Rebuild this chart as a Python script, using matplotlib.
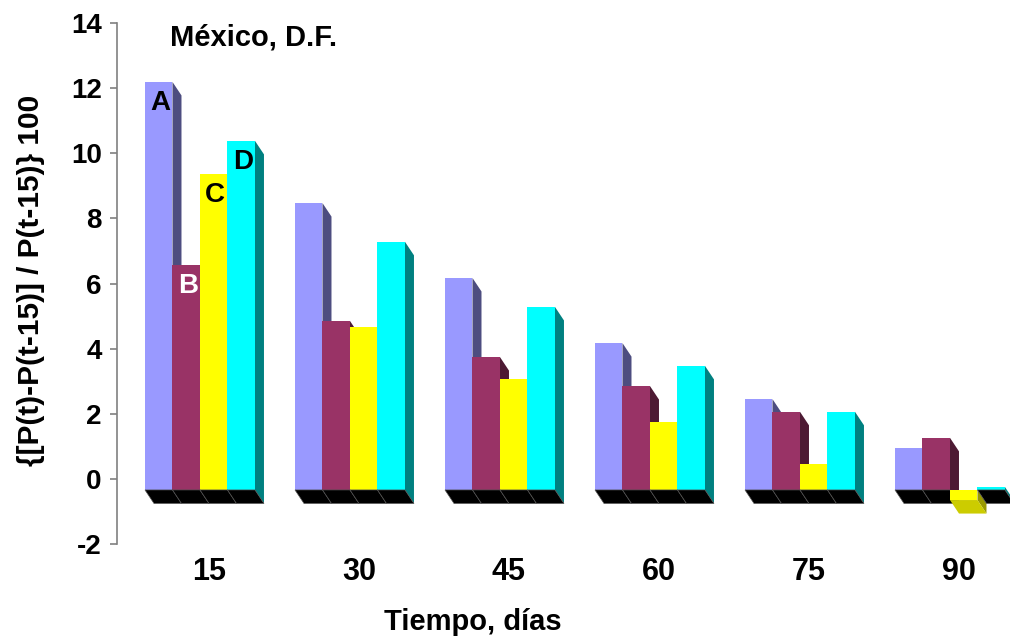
import numpy as np
import matplotlib
matplotlib.use("Agg")
import matplotlib.pyplot as plt
from matplotlib.patches import Polygon

plt.rcParams['font.family'] = ['Liberation Sans', 'DejaVu Sans']
plt.rcParams['font.weight'] = 'bold'
plt.rcParams['axes.unicode_minus'] = False

# Datos: variación porcentual quincenal por serie
dias = ['15', '30', '45', '60', '75', '90']
series = ['A', 'B', 'C', 'D']
serie_a = [12.53, 8.81, 6.51, 4.51, 2.79, 1.29]
serie_b = [6.91, 5.19, 4.08, 3.19, 2.40, 1.60]
serie_c = [9.71, 5.01, 3.41, 2.09, 0.80, -0.31]
serie_d = [10.72, 7.62, 5.62, 3.81, 2.40, 0.09]

frente = ['#9999FF', '#993366', '#FFFF00', '#00FFFF']
lado = ['#4D4D80', '#4D1A33', '#999900', '#008080']
fondo_neg = ['#4D4D80', '#4D1A33', '#CCCC00', '#00B0B0']
color_texto = ['black', 'white', 'black', 'black']

# geometría de la pseudo-perspectiva (unidades de datos)
ANCHO = 0.1833
INICIO = -0.3667
DX = 0.06
DY = 0.415
BASE = -0.34

fig = plt.figure(figsize=(10.10, 6.42), dpi=100)
ax = fig.add_axes([117 / 1010, 1 - 544 / 642, (1010 - 117) / 1010, (544 - 23) / 642])
ax.set_xlim(-0.5533, 5.4)
ax.set_ylim(-2, 14)

valores = [serie_a, serie_b, serie_c, serie_d]

for i in range(len(dias)):
    for j, vals in enumerate(valores):
        v = vals[i]
        x0 = i + INICIO + j * ANCHO
        x1 = x0 + ANCHO
        top = BASE + v
        # cara lateral
        if v >= 0:
            lat = [(x1, top), (x1 + DX, top - DY), (x1 + DX, BASE - DY), (x1, BASE)]
        else:
            lat = [(x1, BASE), (x1 + DX, BASE - DY), (x1 + DX, top - DY), (x1, top)]
        ax.add_patch(Polygon(lat, closed=True, facecolor=lado[j], edgecolor='none', zorder=1))
        if v >= 0:
            ax.add_patch(Polygon([(x0, BASE), (x0, top), (x1, top), (x1, BASE)],
                                 closed=True, facecolor=frente[j], edgecolor='none', zorder=2))
            # piso negro
            ax.add_patch(Polygon([(x0, BASE), (x1, BASE), (x1 + DX, BASE - DY), (x0 + DX, BASE - DY)],
                                 closed=True, facecolor='black', edgecolor='#555555', linewidth=0.5, zorder=3))
        else:
            ax.add_patch(Polygon([(x0, top), (x1, top), (x1 + DX, top - DY), (x0 + DX, top - DY)],
                                 closed=True, facecolor=fondo_neg[j], edgecolor='none', zorder=4))
            ax.add_patch(Polygon([(x0, BASE), (x0, top), (x1, top), (x1, BASE)],
                                 closed=True, facecolor=frente[j], edgecolor='none', zorder=4))

# letras de las series sobre el primer grupo
for j, vals in enumerate(valores):
    xc = INICIO + j * ANCHO + ANCHO / 2
    ax.text(xc + 0.01, BASE + vals[0] - 0.65, series[j], ha='center', va='center',
            fontsize=20, fontweight='bold', color=color_texto[j], zorder=5)

ax.text(0.36, 13.55, 'México, D.F.', fontsize=21, fontweight='bold', ha='center', va='center')

for s in ['top', 'right', 'bottom']:
    ax.spines[s].set_visible(False)
ax.spines['left'].set_color('#808080')
ax.spines['left'].set_linewidth(1.2)

ax.set_yticks(np.arange(-2, 15, 2))
ax.tick_params(axis='y', length=5, width=1.2, color='#808080', labelsize=20, pad=6)
ax.set_xticks(np.arange(len(dias)) + 0.06)
ax.set_xticklabels(dias)
ax.tick_params(axis='x', length=0, labelsize=22, pad=9)

fig.text(31 / 1010, 1 - 280 / 642, '{[P(t)-P(t-15)] / P(t-15)} 100', rotation=90,
         fontsize=21.5, fontweight='bold', ha='center', va='center')
fig.text(473 / 1010, 1 - 622 / 642, 'Tiempo, días', fontsize=21, fontweight='bold',
         ha='center', va='center')

fig.savefig('out.png', dpi=100)
